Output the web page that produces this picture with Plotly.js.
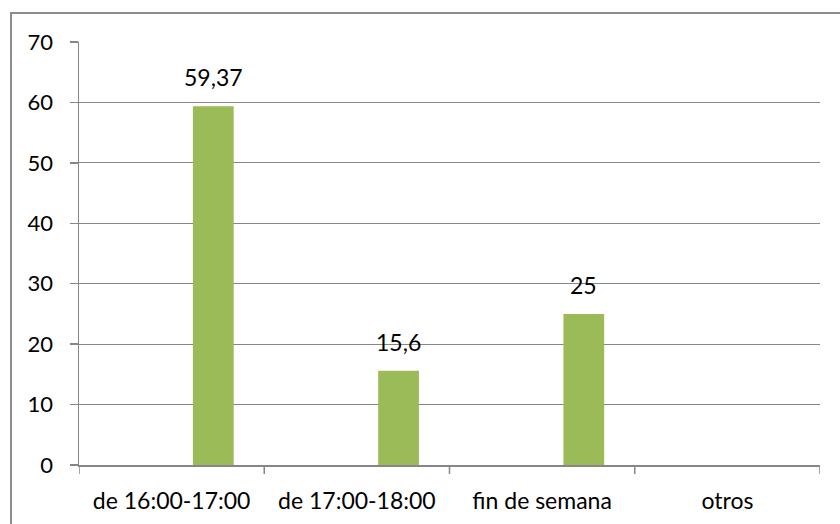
<!DOCTYPE html>
<html><head><meta charset="utf-8">
<script src="https://cdn.plot.ly/plotly-3.0.1.min.js"></script>
<style>
html,body{margin:0;padding:0;background:#fff;overflow:hidden;}
#frame{position:absolute;left:10px;top:12px;width:900px;height:600px;border-left:2px solid #8c8c8c;border-top:2px solid #8c8c8c;box-sizing:border-box;pointer-events:none;z-index:5;}
#chart{position:absolute;left:0;top:0;width:840px;height:524px;}
</style></head>
<body>
<div id="chart"></div>
<div id="frame"></div>
<script>
const categories = ["de 16:00-17:00", "de 17:00-18:00", "fin de semana", "otros"];
const values = [59.37, 15.6, 25, null];
const labels = ["59,37", "15,6", "25", ""];
const yTicks = [0, 10, 20, 30, 40, 50, 60, 70];

const FONT = "Lato, 'Open Sans', sans-serif";
const barOffset = 0.115, barWidth = 0.22;

const trace = {
  type: "bar",
  x: categories,
  y: values,
  marker: {color: "#9BBB59"},
  width: barWidth,
  offset: barOffset,
  hoverinfo: "none"
};

const annotations = categories.map((c, i) => values[i] == null ? null : ({
  x: i + barOffset + barWidth / 2, y: values[i], xref: "x", yref: "y",
  text: labels[i], showarrow: false, yanchor: "bottom", xanchor: "center",
  yshift: 13, font: {family: FONT, size: 23, color: "#000"}
})).filter(a => a);

const layout = {
  width: 840, height: 524,
  margin: {l: 79, r: 20, t: 42, b: 59},
  paper_bgcolor: "#fff", plot_bgcolor: "#fff",
  showlegend: false,
  font: {family: FONT, size: 22, color: "#000"},
  xaxis: {
    type: "category", range: [-0.5, 3.5],
    tickmode: "array", tickvals: categories, ticktext: categories,
    showgrid: false, showline: true, linecolor: "#868686", linewidth: 1.5,
    ticks: "", zeroline: false, fixedrange: true,
    tickfont: {family: FONT, size: 23, color: "#000"}, ticklabelstandoff: 15
  },
  yaxis: {
    range: [0, 70], tickmode: "array", tickvals: yTicks,
    ticktext: yTicks.map(String),
    showgrid: true, gridcolor: "#868686", gridwidth: 1.2,
    showline: true, linecolor: "#868686", linewidth: 1.5,
    ticks: "outside", ticklen: 8, tickcolor: "#868686", tickwidth: 1.5,
    zeroline: false, tickfont: {family: FONT, size: 22, color: "#000"}, ticklabelstandoff: 12
  },
  annotations: annotations,
  shapes: [0, 1, 2, 3, 4].map(i => ({
    type: "line", xref: "x", yref: "paper",
    x0: i - 0.5, x1: i - 0.5, y0: 0, y1: -0.021,
    line: {color: "#868686", width: 1.5}
  }))
};

Plotly.newPlot("chart", [trace], layout, {displayModeBar: false, staticPlot: true});
</script>
</body></html>
